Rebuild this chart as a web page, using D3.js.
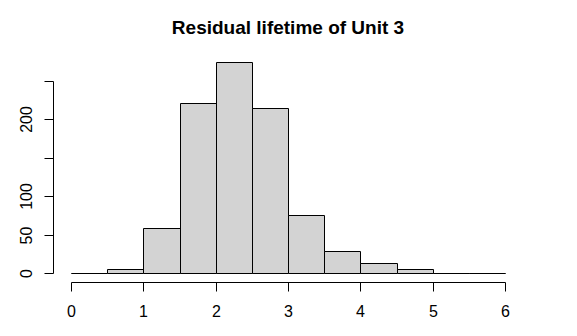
<!DOCTYPE html>
<html>
<head>
<meta charset="utf-8">
<script src="https://cdn.jsdelivr.net/npm/d3@7"></script>
<style>
  body { margin: 0; background: #fff; }
  text { font-family: "Liberation Sans", Arial, sans-serif; }
</style>
</head>
<body>
<svg id="chart" width="577" height="336"></svg>
<script>
// histogram bins (left edges) and counts
const binStarts = [0, 0.5, 1, 1.5, 2, 2.5, 3, 3.5, 4, 4.5, 5, 5.5];
const binWidth = 0.5;
const counts = [0, 5, 59, 222, 275, 215, 76, 29, 13, 5, 0, 0];

const xTicks = [0, 1, 2, 3, 4, 5, 6];
const yTicks = [0, 50, 100, 150, 200, 250];
// R drops labels that would overlap
const yTickLabels = ["0", "50", "100", "", "200", ""];

const title = "Residual lifetime of Unit 3";

const svg = d3.select("#chart");

// scales
const x = d3.scaleLinear().domain([0, 6]).range([71, 505]);
const y = d3.scaleLinear().domain([0, 250]).range([273, 81]);
// snap to pixel centres so 1px strokes stay crisp
const px = v => Math.round(v) + 0.5;

// bars as closed paths so empty bins still show as a flat line
svg.append("g")
  .selectAll("path")
  .data(binStarts.map((b, i) => ({ x0: b, x1: b + binWidth, n: counts[i] })))
  .enter().append("path")
  .attr("d", d => {
    const l = px(x(d.x0)), r = px(x(d.x1)), t = px(y(d.n)), b = px(y(0));
    return `M${l},${b}V${t}H${r}V${b}Z`;
  })
  .attr("fill", "#d3d3d3")
  .attr("stroke", "#000")
  .attr("stroke-width", 1);

// x axis
const xAxis = svg.append("g")
  .attr("transform", "translate(0,282)")
  .call(d3.axisBottom(x).tickValues(xTicks).tickSize(9).tickFormat(d3.format("d")).offset(0.5));
xAxis.selectAll(".tick").attr("transform", d => `translate(${px(x(d))},0)`);
xAxis.select(".domain").attr("d", `M${px(x(0))},0.5H${px(x(6))}`);
xAxis.selectAll("line").attr("stroke", "#000").attr("y1", 0.5).attr("y2", 9.5);
xAxis.selectAll("text")
  .attr("y", 34.5)
  .attr("dy", null)
  .attr("fill", "#000")
  .style("font-size", "16px");

// y axis
const yAxis = svg.append("g")
  .attr("transform", "translate(53,0)")
  .call(d3.axisLeft(y).tickValues(yTicks).tickSize(9).tickFormat((d, i) => yTickLabels[i]));
yAxis.selectAll(".tick").attr("transform", d => `translate(0,${px(y(d))})`);
yAxis.select(".domain").attr("d", `M0.5,${px(y(0))}V${px(y(250))}`);
yAxis.selectAll("line").attr("stroke", "#000").attr("x1", 0.5).attr("x2", -8.5);
yAxis.selectAll("text")
  .attr("transform", "rotate(-90)")
  .attr("x", 0)
  .attr("y", -21.5)
  .attr("dy", null)
  .attr("text-anchor", "middle")
  .attr("fill", "#000")
  .style("font-size", "16px");

// title
svg.append("text")
  .attr("x", 288)
  .attr("y", 34)
  .attr("text-anchor", "middle")
  .style("font-size", "19px")
  .style("font-weight", "bold")
  .text(title);
</script>
</body>
</html>
